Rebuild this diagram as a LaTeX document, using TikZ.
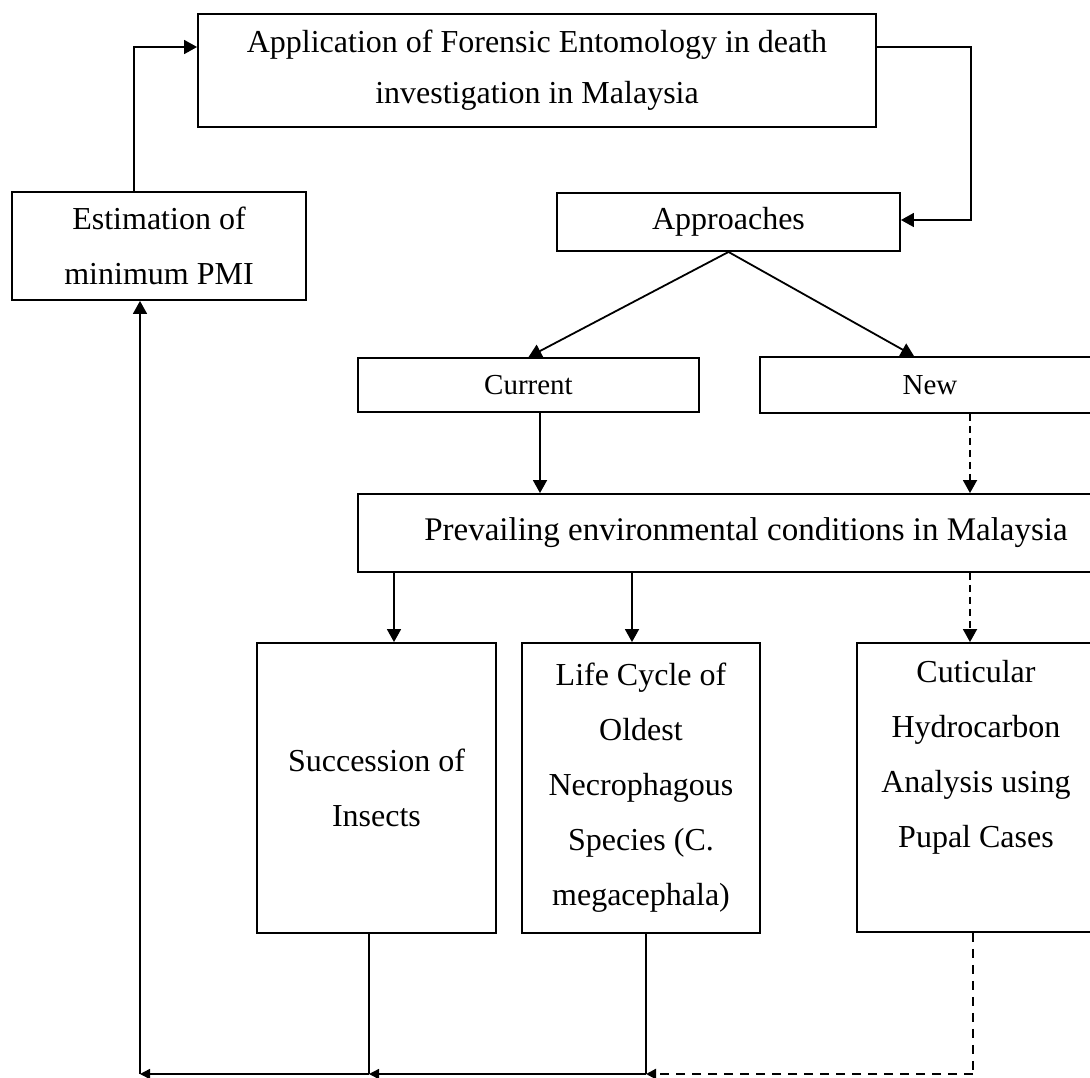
\documentclass[tikz,border=0pt]{standalone}
\usepackage{fontspec}
\setmainfont{Liberation Serif}
\usetikzlibrary{arrows.meta}
\tikzset{
  box/.style={draw, line width=1.9pt, inner sep=0pt, align=center,
    font=\fontsize{32}{55}\selectfont},
  smallbox/.style={box, font=\fontsize{29}{40}\selectfont},
  txt/.style={inner sep=0pt, align=center, font=\fontsize{32}{55}\selectfont},
  arr/.style={-{Triangle[length=13pt,width=14pt]}, line width=1.8pt},
  barr/.style={-{Triangle[length=10pt,width=10pt]}, line width=1.5pt},
  dashup/.style={dash pattern=on 7pt off 5pt},
  dashlow/.style={dash pattern=on 9pt off 7pt, line width=2.2pt},
}
\begin{document}
\begin{tikzpicture}[x=1pt,y=-1pt]
\useasboundingbox (0,0) rectangle (1090,1077);
\clip (0,0) rectangle (1090,1077);
\fill[white] (0,0) rectangle (1090,1077);

\node[box, minimum width=678pt, minimum height=113pt,
      font=\fontsize{32}{51}\selectfont] (app) at (537,70.5)
  {Application of Forensic Entomology in death\\investigation in Malaysia};
\node[box, minimum width=294pt, minimum height=108pt] (pmi) at (159,246)
  {Estimation of\\minimum PMI};
\node[box, minimum width=343pt, minimum height=58pt] (appr) at (728.5,222)
  {Approaches};
\node[smallbox, minimum width=341pt, minimum height=54pt] (cur) at (528.5,385)
  {Current};
\node[smallbox, minimum width=340pt, minimum height=56pt] (new) at (930,385)
  {New};
\node[box, minimum width=776pt, minimum height=78pt,
      font=\fontsize{33}{55}\selectfont] (prev) at (746,533)
  {Prevailing environmental conditions in Malaysia};
\node[box, minimum width=239pt, minimum height=290pt] (suc) at (376.5,788)
  {Succession of\\Insects};
\node[box, minimum width=238pt, minimum height=290pt] (life) at (641,788)
  {Life Cycle of\\Oldest\\Necrophagous\\Species (C.\\megacephala)};
\node[box, minimum width=238pt, minimum height=289pt] (cut) at (976,787.5) {};
\node[txt] (cuttxt) at (976,757)
  {Cuticular\\Hydrocarbon\\Analysis using\\Pupal Cases};

% top loop
\draw[arr] ([yshift=23.5pt]app.east) -- ++(94,0) |- ([yshift=2pt]appr.east);
\draw[arr] ([xshift=-25pt]pmi.north) |- ([yshift=23.5pt]app.west);

% approaches split
\draw[arr] (appr.south) -- (cur.north);
\draw[arr] (appr.south) -- ([xshift=-16pt]new.north);

% into prevailing
\draw[arr] ([xshift=11.5pt]cur.south) -- ([xshift=11.5pt]cur.south |- prev.north);
\draw[arr, dashup] ([xshift=40pt]new.south) -- ([xshift=40pt]new.south |- prev.north);

% out of prevailing
\draw[arr] ([xshift=17.5pt]suc.north |- prev.south) -- ([xshift=17.5pt]suc.north);
\draw[arr] ([xshift=-9pt]life.north |- prev.south) -- ([xshift=-9pt]life.north);
\draw[arr, dashup] ([xshift=-6pt]cut.north |- prev.south) -- ([xshift=-6pt]cut.north);

% bottom return
\coordinate (b1) at (140,1074);
\coordinate (b2) at (369,1074);
\coordinate (b3) at (646,1074);
\coordinate (b4) at (973,1074);
\draw[line width=1.5pt] ([xshift=-7.5pt]suc.south) -- (b2);
\draw[line width=1.5pt] ([xshift=5pt]life.south) -- (b3);
\draw[dashlow] ([xshift=-3pt]cut.south) -- (b4);
\draw[barr] (b2) -- (b1);
\draw[barr] (b3) -- (b2);
\draw[barr, dashlow] (b4) -- (b3);
\draw[arr] (b1) -- ([xshift=-19pt]pmi.south);
\end{tikzpicture}
\end{document}
